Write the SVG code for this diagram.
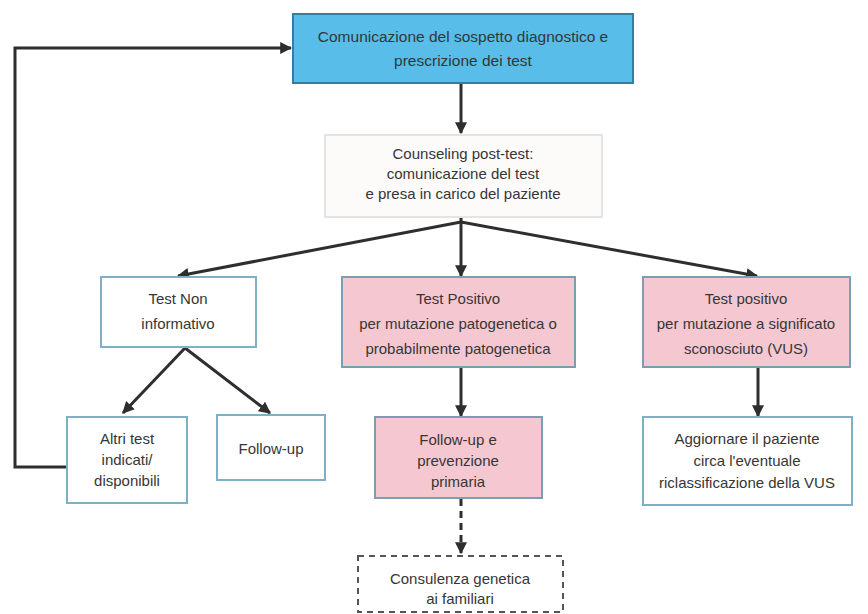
<svg xmlns="http://www.w3.org/2000/svg" width="868" height="614" viewBox="0 0 868 614">
<style>
text{font-family:"Liberation Sans",Arial,sans-serif;font-size:15px;fill:#363636;text-anchor:middle;dominant-baseline:central}
.big{font-size:15.5px}
.blue{fill:#58bde9;stroke:#2f7fa8;stroke-width:2}
.pink{fill:#f5c8d1;stroke:#7d9db3;stroke-width:2}
.white{fill:#ffffff;stroke:#7fb0c6;stroke-width:2}
.light{fill:#fcfbf9;stroke:#dcdcdc;stroke-width:1.5}
.dash{fill:#ffffff;stroke:#555;stroke-width:2;stroke-dasharray:6 5}
.ln{fill:none;stroke:#2e2e2e;stroke-width:3}
</style>
<defs>
<marker id="ah" viewBox="0 0 10 10" refX="9" refY="5" markerWidth="4" markerHeight="4" orient="auto" markerUnits="strokeWidth">
<path d="M0,0 L10,5 L0,10 z" fill="#2e2e2e"/>
</marker>
</defs>
<g id="connectors">
<line class="ln" x1="461" y1="84" x2="461" y2="133" marker-end="url(#ah)"/>
<line class="ln" x1="461" y1="222" x2="178" y2="276" marker-end="url(#ah)"/>
<line class="ln" x1="461" y1="218" x2="461" y2="276" marker-end="url(#ah)"/>
<line class="ln" x1="461" y1="222" x2="757" y2="276" marker-end="url(#ah)"/>
<line class="ln" x1="185" y1="348" x2="123" y2="413" marker-end="url(#ah)"/>
<line class="ln" x1="185" y1="348" x2="270" y2="413" marker-end="url(#ah)"/>
<line class="ln" x1="461" y1="368" x2="461" y2="416" marker-end="url(#ah)"/>
<line class="ln" x1="758" y1="368" x2="758" y2="416" marker-end="url(#ah)"/>
<path class="ln" d="M66,467 H15 V48 H291" marker-end="url(#ah)"/>
<line class="ln" x1="461" y1="499" x2="461" y2="553" stroke-dasharray="7 5" marker-end="url(#ah)"/>
</g>
<g id="node-comunicazione">
<rect class="blue" x="293" y="14" width="340" height="69"/>
<text class="big" x="463" y="36">Comunicazione del sospetto diagnostico e</text>
<text class="big" x="463" y="60">prescrizione dei test</text>
</g>
<g id="node-counseling">
<rect class="light" x="325" y="135" width="277" height="82"/>
<text x="463" y="153">Counseling post-test:</text>
<text x="463" y="173">comunicazione del test</text>
<text x="463" y="193">e presa in carico del paziente</text>
</g>
<g id="node-non-informativo">
<rect class="white" x="101" y="277" width="155" height="70"/>
<text x="178" y="298">Test Non</text>
<text x="178" y="323">informativo</text>
</g>
<g id="node-positivo">
<rect class="pink" x="342" y="277" width="233" height="90"/>
<text x="458" y="298">Test Positivo</text>
<text x="458" y="323">per mutazione patogenetica o</text>
<text x="458" y="348">probabilmente patogenetica</text>
</g>
<g id="node-vus">
<rect class="pink" x="643" y="277" width="207" height="90"/>
<text x="746" y="298">Test positivo</text>
<text x="746" y="323">per mutazione a significato</text>
<text x="746" y="348">sconosciuto (VUS)</text>
</g>
<g id="node-altri">
<rect class="white" x="67" y="417" width="120" height="86"/>
<text x="127" y="438">Altri test</text>
<text x="127" y="459">indicati/</text>
<text x="127" y="480">disponibili</text>
</g>
<g id="node-followup">
<rect class="white" x="217" y="415" width="108" height="65"/>
<text x="271" y="448">Follow-up</text>
</g>
<g id="node-prevenzione">
<rect class="pink" x="375" y="417" width="167" height="81"/>
<text x="458" y="439">Follow-up e</text>
<text x="458" y="460">prevenzione</text>
<text x="458" y="481">primaria</text>
</g>
<g id="node-aggiornare">
<rect class="white" x="643" y="417" width="209" height="88"/>
<text x="747" y="438">Aggiornare il paziente</text>
<text x="747" y="460">circa l'eventuale</text>
<text x="747" y="482">riclassificazione della VUS</text>
</g>
<g id="node-consulenza">
<rect class="dash" x="358" y="556" width="205" height="56"/>
<text x="460" y="578">Consulenza genetica</text>
<text x="460" y="598">ai familiari</text>
</g>
</svg>
